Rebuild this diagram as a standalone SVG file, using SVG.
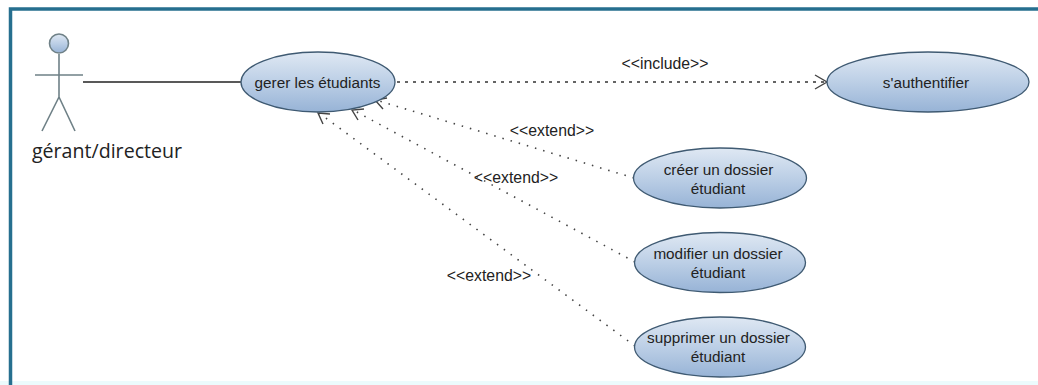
<svg xmlns="http://www.w3.org/2000/svg" width="1038" height="385" viewBox="0 0 1038 385">
<style>
text{font-family:"Liberation Sans",Arial,sans-serif;font-size:15.300px;fill:#222;text-anchor:middle}
.lbl{font-size:15.800px}
.uc{fill:url(#g);stroke:#3f5a72;stroke-width:1.300}
.act{stroke:#6f8187;stroke-width:1.600;fill:none}
.dash{stroke:#333;stroke-width:1.300;fill:none;stroke-dasharray:3 5}
.dot{stroke:#444;stroke-width:1.600;fill:none;stroke-dasharray:1.500 7}
.head{stroke:#444;stroke-width:1.400;fill:none}
</style>
<defs><linearGradient id="g" x1="0" y1="0" x2="0" y2="1"><stop offset="0" stop-color="#dfe8f3"/><stop offset=".5" stop-color="#bccfe6"/><stop offset="1" stop-color="#97b3d6"/></linearGradient></defs>
<rect width="1038" height="385" fill="#fff"/>
<path d="M0 381H1038V385H0Z" fill="#ecfbfd"/>
<path d="M10.500 385V9H1038" fill="none" stroke="#266f8f" stroke-width="3.500"/>
<g id="connectors">
<line x1="83" y1="82" x2="242" y2="82" stroke="#222" stroke-width="1.300"/>
<line class="dash" x1="397" y1="82" x2="826" y2="82"/>
<path class="head" d="M815 75L827 82L815 89"/>
<line class="dot" x1="634" y1="178" x2="376" y2="100"/>
<path class="head" d="M387 98L375 100L383 109"/>
<line class="dot" x1="635" y1="262" x2="353" y2="110"/>
<path class="head" d="M364 109L352 110L358 120"/>
<line class="dot" x1="635" y1="346" x2="319" y2="113"/>
<path class="head" d="M330 114L318 113L323 124"/>
</g>
<text class="lbl" x="665" y="69">&lt;&lt;include&gt;&gt;</text>
<text class="lbl" x="552" y="136">&lt;&lt;extend&gt;&gt;</text>
<text class="lbl" x="516" y="183">&lt;&lt;extend&gt;&gt;</text>
<text class="lbl" x="489" y="281">&lt;&lt;extend&gt;&gt;</text>
<g id="actor">
<circle class="act" cx="59" cy="43.500" r="9.500" style="fill:url(#g)"/>
<path class="act" d="M59 54V97M35 75H83M59 97L42 131M59 97L75 131"/>
<text x="107" y="158" style="font-family:'Open Sans',sans-serif;font-size:19.600px;fill:#222">gérant/directeur</text>
</g>
<g id="gerer"><ellipse class="uc" cx="318" cy="82" rx="77" ry="30"/><text x="317.500" y="88">gerer les étudiants</text></g>
<g id="auth"><ellipse class="uc" cx="928" cy="82" rx="101" ry="30"/><text x="926" y="88">s'authentifier</text></g>
<g id="creer"><ellipse class="uc" cx="720" cy="178" rx="86.500" ry="30"/><text x="718.500" y="175">créer un dossier</text><text x="718" y="194">étudiant</text></g>
<g id="modifier"><ellipse class="uc" cx="720" cy="262.500" rx="85.500" ry="30"/><text x="718" y="259">modifier un dossier</text><text x="718" y="278">étudiant</text></g>
<g id="supprimer"><ellipse class="uc" cx="720" cy="347" rx="85.500" ry="30"/><text x="718.500" y="343">supprimer un dossier</text><text x="718" y="362">étudiant</text></g>
</svg>
